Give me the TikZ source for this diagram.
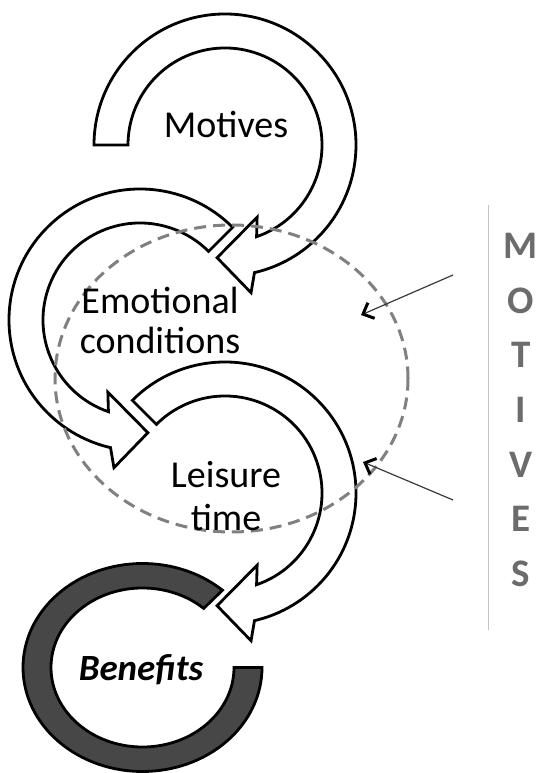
\documentclass[tikz,border=0pt]{standalone}
\usepackage{fontspec}
\setmainfont{Carlito}
\usetikzlibrary{arrows.meta,shapes.geometric}
\definecolor{ringgray}{HTML}{474747}
\definecolor{dashgray}{HTML}{808080}
\definecolor{lettergray}{HTML}{6C6C6C}
\definecolor{rulegray}{HTML}{C4C4C4}
\definecolor{pointergray}{HTML}{3A3A3A}
\tikzset{
  arrowbody/.style={draw=black, fill=white, line width=2.8pt, line join=miter},
  ringbody/.style={draw=black, fill=ringgray, line width=2.8pt},
  zone/.style={draw=dashgray, line width=3pt, dash pattern=on 12pt off 7pt},
  pointer/.style={draw=pointergray, line width=1.2pt,
    -{Straight Barb[length=9pt, width=17pt, line width=3pt, color=black]}},
  label/.style={inner sep=0pt, align=center, font=\fontsize{38}{40}\selectfont},
}
\begin{document}
\begin{tikzpicture}[x=1pt, y=1pt]
\useasboundingbox (0,0) rectangle (538,773);
\fill[white] (0,0) rectangle (538,773);

% open ring around the outcome
\begin{scope}[shift={(142.5,105.5)}]
  \draw[ringbody] (48:119.5 and 104)
    arc[start angle=48, end angle=360, x radius=119.5, y radius=104]
    -- (0:91.5 and 79.5)
    arc[start angle=360, end angle=48, x radius=91.5, y radius=79.5] -- cycle;
\end{scope}

% curved arrow 1 (clockwise)
\begin{scope}[shift={(225,628)}]
  \draw[arrowbody] (180:131) arc[start angle=180, end angle=-77, radius=131]
    -- (-80:150) -- (-94:113) -- (-66:79) -- (-71:97)
    arc[start angle=-71, end angle=180, radius=97] -- cycle;
\end{scope}

% curved arrow 2 (counter-clockwise)
\begin{scope}[shift={(140,453)}]
  \draw[arrowbody] (45:131) arc[start angle=45, end angle=257, radius=131]
    -- (260:150) -- (274:113) -- (246:79) -- (251:97)
    arc[start angle=251, end angle=45, radius=97] -- cycle;
\end{scope}

% curved arrow 3 (clockwise)
\begin{scope}[shift={(225,280)}]
  \draw[arrowbody] (135:131) arc[start angle=135, end angle=-77, radius=131]
    -- (-80:150) -- (-94:113) -- (-66:79) -- (-71:97)
    arc[start angle=-71, end angle=135, radius=97] -- cycle;
\end{scope}

% dashed zone
\node[zone, ellipse, minimum width=353pt, minimum height=307pt, inner sep=0pt]
  (zone) at (231.5,394.5) {};

% side rule and pointers
\coordinate (ruletop) at (488,568);
\coordinate (rulebot) at (488,143);
\draw[rulegray, line width=1pt] (ruletop) -- (rulebot);

\coordinate (p1from) at (453,498);
\coordinate (p1to) at (361,458);
\coordinate (p2from) at (453,273);
\coordinate (p2to) at (363,311);
\draw[pointer] (p1from) -- (p1to);
\draw[pointer] (p2from) -- (p2to);

% labels
\node[label, anchor=base] (motives) at (226,635) {Motives};
\node[label, anchor=north] (emotional) at (160,486) {Emotional\\conditions};
\node[label, anchor=north, font=\fontsize{38}{43}\selectfont] (leisure) at (226,312) {Leisure\\time};
\node[inner sep=0pt, anchor=base, font=\fontsize{37}{40}\selectfont\bfseries\itshape]
  (benefits) at (141,92) {Benefits};
\node[inner sep=0pt, anchor=north, align=center, text=lettergray,
  font=\fontsize{39}{54.7}\selectfont\bfseries] (side) at (521,540)
  {M\\O\\T\\I\\V\\E\\S};
\end{tikzpicture}
\end{document}
